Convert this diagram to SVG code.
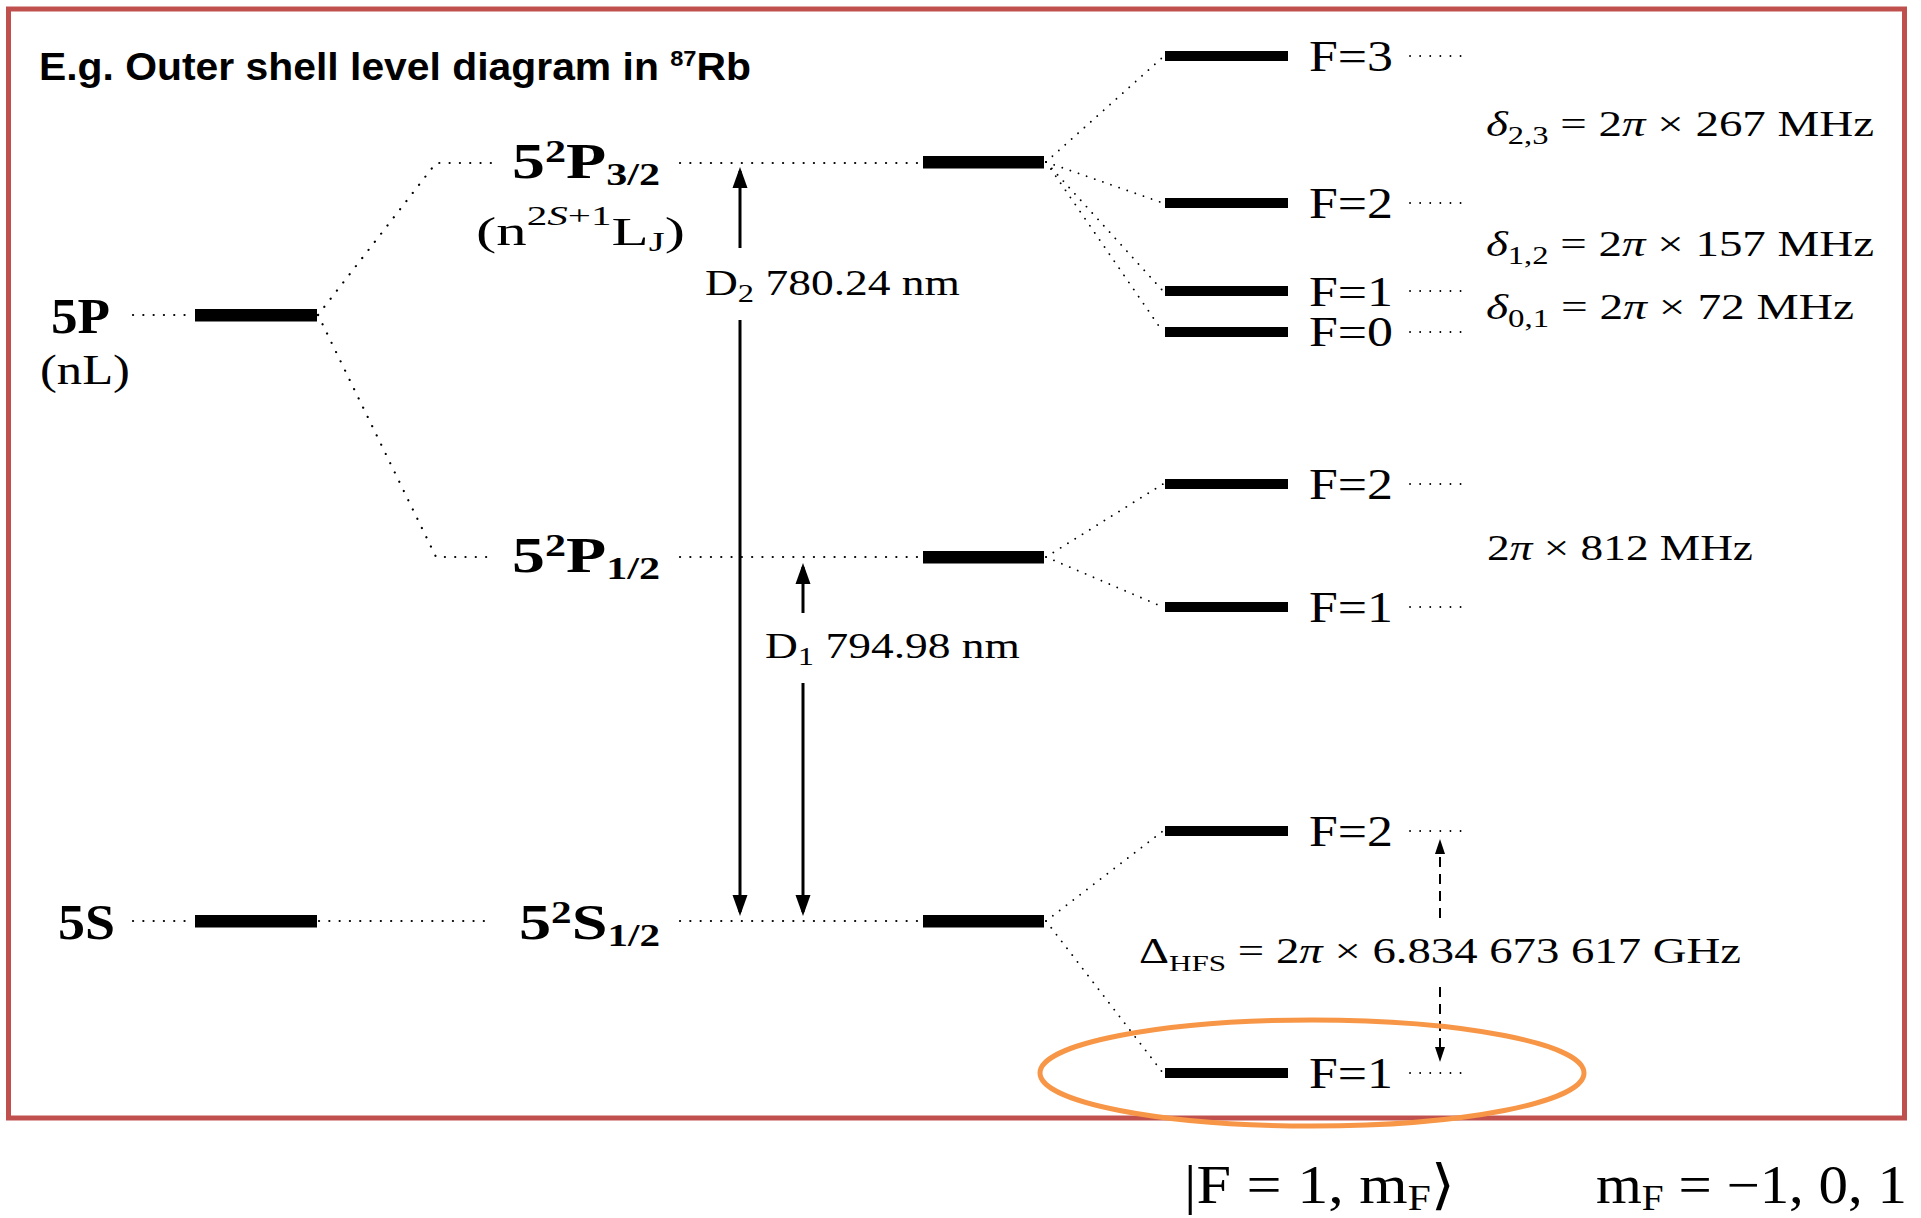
<svg xmlns="http://www.w3.org/2000/svg" width="1921" height="1218" viewBox="0 0 1921 1218">
<style>
.bg{fill:#fff}
.frame{fill:none;stroke:#C0504D;stroke-width:5}
.ell{fill:none;stroke:#F79646;stroke-width:5}
.bar{fill:#000}
.hbar{fill:#000}
.dot{fill:none;stroke:#000;stroke-width:2.2;stroke-linecap:round;stroke-dasharray:0.1 10.2}
.dotd{fill:none;stroke:#000;stroke-width:1.8;stroke-linecap:round;stroke-dasharray:0.1 8.5}
.dotf{fill:none;stroke:#000;stroke-width:1.8;stroke-linecap:round;stroke-dasharray:0.1 10}
.arr{fill:none;stroke:#000;stroke-width:3}
.darr{fill:none;stroke:#000;stroke-width:2;stroke-dasharray:10 7}
.title{font-family:"Liberation Sans Narrow","Liberation Sans","DejaVu Sans",sans-serif;font-weight:bold;font-size:38px;fill:#000}
.m{font-family:"Liberation Serif","DejaVu Serif",serif;fill:#000}
.mb{font-family:"Liberation Serif","DejaVu Serif",serif;font-weight:bold;fill:#000}
.it{font-style:italic}
</style>
<defs>
<marker id="ah" markerUnits="userSpaceOnUse" markerWidth="22" markerHeight="16" refX="17" refY="8" orient="auto">
<path d="M0,0.5 L21,8 L0,15.5 Z" fill="#000"/>
</marker>
<marker id="ahs" markerUnits="userSpaceOnUse" markerWidth="16" markerHeight="12" refX="12" refY="5" orient="auto">
<path d="M0,0 L15,5 L0,10 Z" fill="#000"/>
</marker>
</defs>
<rect class="bg" x="0" y="0" width="1921" height="1218"/>
<rect class="frame" x="8.5" y="9" width="1896" height="1109"/>

<text class="title" x="39" y="80" textLength="712" lengthAdjust="spacingAndGlyphs">E.g. Outer shell level diagram in <tspan font-size="22" dy="-14">87</tspan><tspan dy="14">Rb</tspan></text>

<g id="connectors">
<path class="dot" d="M133,315 H190"/>
<path class="dot" d="M318,315 L436,163 H492"/>
<path class="dot" d="M318,315 L436,557 H492"/>
<path class="dot" d="M680,163 H921"/>
<path class="dot" d="M680,557 H921"/>
<path class="dot" d="M133,921 H190"/>
<path class="dot" d="M319,921 H494"/>
<path class="dot" d="M680,921 H921"/>
<path class="dotd" d="M1046,162 L1163,57"/>
<path class="dotd" d="M1046,162 L1163,203"/>
<path class="dotd" d="M1046,162 L1163,291"/>
<path class="dotd" d="M1046,162 L1163,332"/>
<path class="dotd" d="M1046,557 L1163,484"/>
<path class="dotd" d="M1046,557 L1163,607"/>
<path class="dotd" d="M1046,921 L1163,831"/>
<path class="dotd" d="M1046,921 L1163,1073"/>
<path class="dotf" d="M1410,56 H1462"/>
<path class="dotf" d="M1410,203 H1462"/>
<path class="dotf" d="M1410,291 H1462"/>
<path class="dotf" d="M1410,332 H1462"/>
<path class="dotf" d="M1410,484 H1462"/>
<path class="dotf" d="M1410,607 H1462"/>
<path class="dotf" d="M1410,831 H1462"/>
<path class="dotf" d="M1410,1073 H1462"/>
<path class="arr" d="M740,248 V171" marker-end="url(#ah)"/>
<path class="arr" d="M740,320 V912" marker-end="url(#ah)"/>
<path class="arr" d="M803,613 V567" marker-end="url(#ah)"/>
<path class="arr" d="M803,683 V912" marker-end="url(#ah)"/>
<path class="darr" d="M1440,918 V842" marker-end="url(#ahs)"/>
<path class="darr" d="M1440,987 V1059" marker-end="url(#ahs)"/>
</g>

<g id="n5P">
<rect class="bar" x="195" y="309" width="122" height="12.5"/>
<text class="mb" x="51" y="333" font-size="50" textLength="59" lengthAdjust="spacingAndGlyphs">5P</text>
<text class="m" x="40" y="384" font-size="42" textLength="90" lengthAdjust="spacingAndGlyphs">(nL)</text>
</g>

<g id="n5S">
<rect class="bar" x="195" y="915" width="122" height="12.5"/>
<text class="mb" x="58" y="939" font-size="50" textLength="57" lengthAdjust="spacingAndGlyphs">5S</text>
</g>

<g id="nP32">
<text class="mb" x="512" y="178" font-size="50" textLength="148" lengthAdjust="spacingAndGlyphs">5<tspan font-size="32" dy="-16">2</tspan><tspan dy="16">P</tspan><tspan font-size="32" dy="7">3/2</tspan></text>
<text class="m" x="476" y="245" font-size="40" textLength="209" lengthAdjust="spacingAndGlyphs">(n<tspan font-size="27" dy="-20">2<tspan class="it">S</tspan>+1</tspan><tspan dy="20">L</tspan><tspan font-size="27" dy="6">J</tspan><tspan dy="-6">)</tspan></text>
<rect class="bar" x="923" y="156" width="121" height="12.5"/>
</g>

<g id="nP12">
<text class="mb" x="512" y="572" font-size="50" textLength="148" lengthAdjust="spacingAndGlyphs">5<tspan font-size="32" dy="-16">2</tspan><tspan dy="16">P</tspan><tspan font-size="32" dy="7">1/2</tspan></text>
<rect class="bar" x="923" y="551" width="121" height="12.5"/>
</g>

<g id="nS12">
<text class="mb" x="519" y="939" font-size="50" textLength="141" lengthAdjust="spacingAndGlyphs">5<tspan font-size="32" dy="-16">2</tspan><tspan dy="16">S</tspan><tspan font-size="32" dy="7">1/2</tspan></text>
<rect class="bar" x="923" y="915" width="121" height="12.5"/>
</g>

<g id="lD2">
<text class="m" x="705" y="295" font-size="35" textLength="255" lengthAdjust="spacingAndGlyphs">D<tspan font-size="25" dy="7">2</tspan><tspan dy="-7"> 780.24 nm</tspan></text>
</g>
<g id="lD1">
<text class="m" x="765" y="658" font-size="35" textLength="255" lengthAdjust="spacingAndGlyphs">D<tspan font-size="25" dy="7">1</tspan><tspan dy="-7"> 794.98 nm</tspan></text>
</g>

<g id="hfP32F3">
<rect class="hbar" x="1165" y="51" width="123" height="10"/>
<text class="m" x="1309" y="71" font-size="44" textLength="84" lengthAdjust="spacingAndGlyphs">F=3</text>
</g>
<g id="hfP32F2">
<rect class="hbar" x="1165" y="198" width="123" height="10"/>
<text class="m" x="1309" y="218" font-size="44" textLength="84" lengthAdjust="spacingAndGlyphs">F=2</text>
</g>
<g id="hfP32F1">
<rect class="hbar" x="1165" y="286" width="123" height="10"/>
<text class="m" x="1309" y="306" font-size="42" textLength="84" lengthAdjust="spacingAndGlyphs">F=1</text>
</g>
<g id="hfP32F0">
<rect class="hbar" x="1165" y="327" width="123" height="10"/>
<text class="m" x="1309" y="346" font-size="42" textLength="84" lengthAdjust="spacingAndGlyphs">F=0</text>
</g>
<g id="hfP12F2">
<rect class="hbar" x="1165" y="479" width="123" height="10"/>
<text class="m" x="1309" y="499" font-size="44" textLength="84" lengthAdjust="spacingAndGlyphs">F=2</text>
</g>
<g id="hfP12F1">
<rect class="hbar" x="1165" y="602" width="123" height="10"/>
<text class="m" x="1309" y="622" font-size="44" textLength="84" lengthAdjust="spacingAndGlyphs">F=1</text>
</g>
<g id="hfS12F2">
<rect class="hbar" x="1165" y="826" width="123" height="10"/>
<text class="m" x="1309" y="846" font-size="44" textLength="84" lengthAdjust="spacingAndGlyphs">F=2</text>
</g>
<g id="hfS12F1">
<rect class="hbar" x="1165" y="1068" width="123" height="10"/>
<text class="m" x="1309" y="1088" font-size="44" textLength="84" lengthAdjust="spacingAndGlyphs">F=1</text>
</g>

<g id="splittings">
<text class="m" x="1486" y="136" font-size="36" textLength="388" lengthAdjust="spacingAndGlyphs"><tspan class="it">δ</tspan><tspan font-size="25" dy="8">2,3</tspan><tspan dy="-8"> = 2</tspan><tspan class="it">π</tspan> × 267 MHz</text>
<text class="m" x="1486" y="256" font-size="36" textLength="388" lengthAdjust="spacingAndGlyphs"><tspan class="it">δ</tspan><tspan font-size="25" dy="8">1,2</tspan><tspan dy="-8"> = 2</tspan><tspan class="it">π</tspan> × 157 MHz</text>
<text class="m" x="1486" y="319" font-size="36" textLength="368" lengthAdjust="spacingAndGlyphs"><tspan class="it">δ</tspan><tspan font-size="25" dy="8">0,1</tspan><tspan dy="-8"> = 2</tspan><tspan class="it">π</tspan> × 72 MHz</text>
<text class="m" x="1487" y="560" font-size="36" textLength="266" lengthAdjust="spacingAndGlyphs">2<tspan class="it">π</tspan> × 812 MHz</text>
<text class="m" x="1139" y="963" font-size="36" textLength="602" lengthAdjust="spacingAndGlyphs">Δ<tspan font-size="24" dy="8">HFS</tspan><tspan dy="-8"> = 2</tspan><tspan class="it">π</tspan> × 6.834 673 617 GHz</text>
</g>

<ellipse class="ell" cx="1312" cy="1073" rx="272" ry="53"/>

<g id="state">
<text class="m" x="1184" y="1203" font-size="54" textLength="271" lengthAdjust="spacingAndGlyphs">|F = 1, m<tspan font-size="36" dy="7">F</tspan><tspan dy="-7">⟩</tspan></text>
<text class="m" x="1596" y="1203" font-size="54" textLength="311" lengthAdjust="spacingAndGlyphs">m<tspan font-size="36" dy="7">F</tspan><tspan dy="-7"> = −1, 0, 1</tspan></text>
</g>
</svg>
